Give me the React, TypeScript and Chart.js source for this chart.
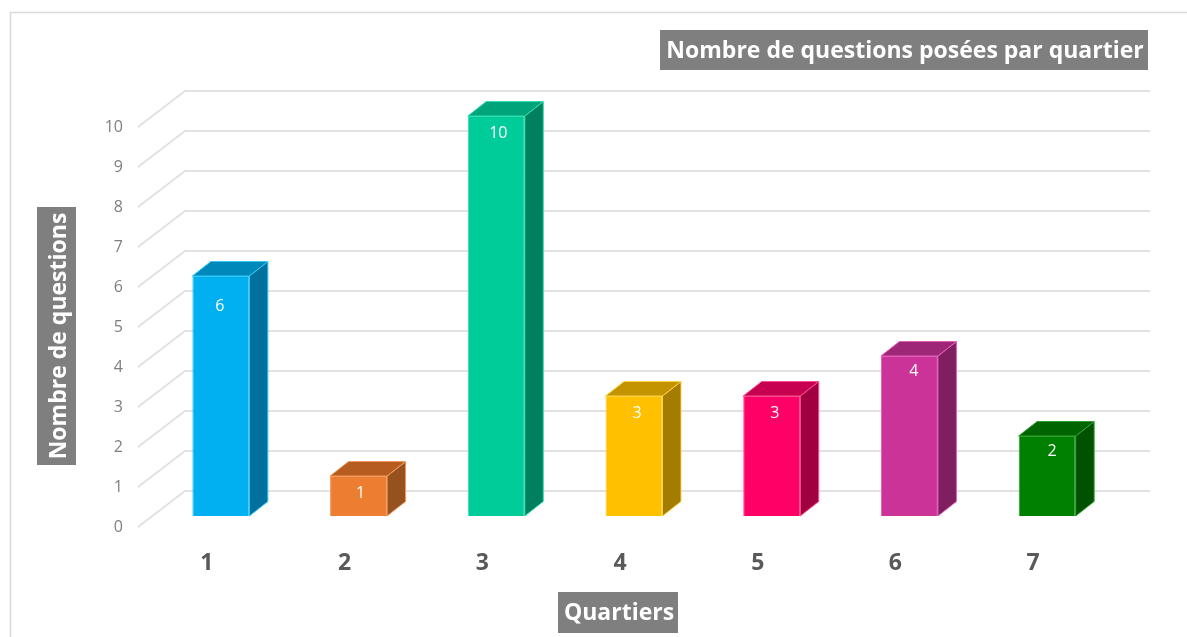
import React, { useEffect, useRef } from "react";
import { Chart, registerables } from "chart.js";

Chart.register(...registerables);

const quartiers = ["1", "2", "3", "4", "5", "6", "7"];
const questions = [6, 1, 10, 3, 3, 4, 2];
const valueTicks = [0, 1, 2, 3, 4, 5, 6, 7, 8, 9, 10];

const frontColors = ["#00B0F0", "#ED7D31", "#00CC99", "#FFC000", "#FF0066", "#CC3399", "#008000"];
const topColors = ["#0088BB", "#B75C20", "#00A47A", "#C49400", "#C80050", "#9E2777", "#006400"];
const sideColors = ["#00719C", "#96521E", "#00805F", "#A37C00", "#A00040", "#7F1F60", "#005200"];
const edgeColors = ["#33C8F8", "#F59A60", "#33DDB0", "#FFD040", "#FF4D90", "#E060B8", "#30A030"];

const chartTitle = "Nombre de questions posées par quartier";
const yTitle = "Nombre de questions";
const xTitle = "Quartiers";

// label placement inside each bar, relative to the bar's top centre
const labelNudgeX = [-1, 2, 2, 3, 3, 4.5, 5];
const labelNudgeY = [30, 17, 17, 17, 17, 15, 15];

const DEPTH_X = 18.5;
const DEPTH_Y = 14.5;
const AREA = { left: 152, right: 1116, top: 116, bottom: 516 };
const GRID = { startX: 138, startDY: 11, backX: 185, backDY: -25, endX: 1150 };
const FONT = '"Open Sans", sans-serif';

const scenePlugin = {
  id: "scene",
  beforeDatasetsDraw(chart: any) {
    const { ctx, scales } = chart;
    ctx.save();
    // outer frame
    ctx.strokeStyle = "#D9D9D9";
    ctx.lineWidth = 1.5;
    ctx.beginPath();
    ctx.moveTo(10.5, 637);
    ctx.lineTo(10.5, 12.5);
    ctx.lineTo(1187, 12.5);
    ctx.stroke();
    // floor and wall grid lines
    ctx.strokeStyle = "#E2E2E2";
    ctx.lineWidth = 2;
    valueTicks.forEach((v) => {
      const py = scales.y.getPixelForValue(v);
      ctx.beginPath();
      ctx.moveTo(GRID.startX, py + GRID.startDY);
      ctx.lineTo(GRID.backX, py + GRID.backDY);
      ctx.lineTo(GRID.endX, py + GRID.backDY);
      ctx.stroke();
    });
    // extruded top and side of each bar
    const bars = chart.getDatasetMeta(0).data;
    bars.forEach((bar: any, i: number) => {
      const l = bar.x - bar.width / 2;
      const r = bar.x + bar.width / 2;
      const t = bar.y;
      const b = bar.base;
      ctx.lineWidth = 1;
      ctx.strokeStyle = edgeColors[i];
      ctx.fillStyle = sideColors[i];
      ctx.beginPath();
      ctx.moveTo(r, t);
      ctx.lineTo(r + DEPTH_X, t - DEPTH_Y);
      ctx.lineTo(r + DEPTH_X, b - DEPTH_Y);
      ctx.lineTo(r, b);
      ctx.closePath();
      ctx.fill();
      ctx.stroke();
      ctx.fillStyle = topColors[i];
      ctx.beginPath();
      ctx.moveTo(l, t);
      ctx.lineTo(l + DEPTH_X, t - DEPTH_Y);
      ctx.lineTo(r + DEPTH_X, t - DEPTH_Y);
      ctx.lineTo(r, t);
      ctx.closePath();
      ctx.fill();
      ctx.stroke();
    });
    ctx.restore();
  },
  afterDatasetsDraw(chart: any) {
    const { ctx } = chart;
    ctx.save();
    // data labels
    ctx.fillStyle = "#FFFFFF";
    ctx.font = `400 16px ${FONT}`;
    ctx.textAlign = "center";
    ctx.textBaseline = "middle";
    chart.getDatasetMeta(0).data.forEach((bar: any, i: number) => {
      ctx.fillText(String(questions[i]), bar.x + labelNudgeX[i], bar.y + labelNudgeY[i]);
    });
    // title boxes
    ctx.fillStyle = "#7F7F7F";
    ctx.fillRect(660, 30, 488, 40);
    ctx.fillRect(37, 207, 39, 258);
    ctx.fillRect(558, 592, 120, 41);
    ctx.fillStyle = "#FFFFFF";
    ctx.font = `700 23px ${FONT}`;
    ctx.fillText(chartTitle, 905, 51);
    ctx.fillText(xTitle, 619, 613);
    ctx.translate(59, 336);
    ctx.rotate(-Math.PI / 2);
    ctx.fillText(yTitle, 0, 0);
    ctx.restore();
  },
};

export default function App() {
  const ref = useRef<HTMLCanvasElement>(null);

  useEffect(() => {
    document.body.style.background = "#FFFFFF";
    const chart = new Chart(ref.current as HTMLCanvasElement, {
      type: "bar",
      data: {
        labels: quartiers,
        datasets: [
          {
            label: chartTitle,
            data: questions,
            backgroundColor: frontColors,
            borderColor: edgeColors,
            borderWidth: 1,
            barPercentage: 0.414,
            categoryPercentage: 1,
          },
        ],
      },
      options: {
        responsive: false,
        animation: false,
        layout: {
          padding: { left: 0, top: AREA.top, right: 1187 - AREA.right, bottom: 0 },
        },
        plugins: { legend: { display: false }, tooltip: { enabled: false }, title: { display: false } },
        scales: {
          x: {
            afterFit(scale: any) {
              scale.height = 637 - AREA.bottom;
            },
            grid: { display: false, drawTicks: false },
            border: { display: false },
            ticks: {
              color: "#595959",
              font: { family: FONT, size: 23, weight: "700" },
              padding: 34,
              labelOffset: -14,
              maxRotation: 0,
            },
          },
          y: {
            min: 0,
            max: 10,
            afterFit(scale: any) {
              scale.width = AREA.left;
            },
            grid: { display: false, drawTicks: false },
            border: { display: false },
            ticks: {
              stepSize: 1,
              color: "#7F7F7F",
              font: { family: FONT, size: 16, weight: "400" },
              padding: 29,
              labelOffset: 11,
            },
          },
        },
      },
      plugins: [scenePlugin],
    } as any);
    return () => chart.destroy();
  }, []);

  return (
    <div style={{ position: "fixed", left: 0, top: 0, width: 1187, height: 637, background: "#FFFFFF" }}>
      <canvas ref={ref} width={1187} height={637} style={{ display: "block", filter: "blur(0.4px)" }} />
    </div>
  );
}
